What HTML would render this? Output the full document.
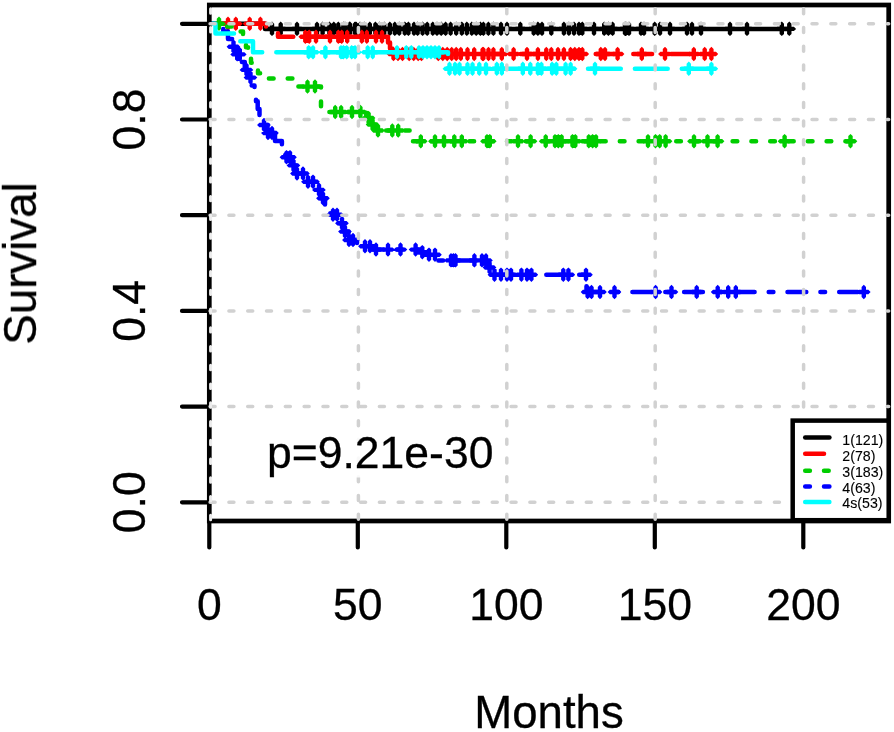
<!DOCTYPE html>
<html lang="en">
<head>
<meta charset="utf-8">
<title>Survival by group</title>
<style>
html,body{margin:0;padding:0;background:#fff;}
body{width:894px;height:732px;overflow:hidden;}
svg{display:block;}
svg text{font-family:"Liberation Sans",Arial,Helvetica,sans-serif;fill:#000;stroke:#000;stroke-width:0.3px;}
#legend text{stroke-width:0.1px;}
</style>
</head>
<body>
<svg width="894" height="732" viewBox="0 0 894 732">
<defs>
<filter id="soft" x="-2%" y="-2%" width="104%" height="104%"><feGaussianBlur stdDeviation="0.75"/></filter>
<filter id="soft2" x="-2%" y="-2%" width="104%" height="104%"><feGaussianBlur stdDeviation="0.5"/></filter>
</defs>
<rect width="894" height="732" fill="#fff"/>
<g id="curves" filter="url(#soft)">
<path d="M210 23.8 L265 23.8 L265 28.9 L789.3 28.9 L789.3 28.9" stroke="#000000" stroke-width="4.5" stroke-linecap="round" stroke-linejoin="round" fill="none"/>
<path d="M272 21.6l2.2 2.2v10.1l-2.2 2.2l-2.2 -2.2v-10.1zM265.1 28.9l2.2 -2.2h9.3l2.2 2.2l-2.2 2.2h-9.3zM280.7 21.6l2.2 2.2v10.1l-2.2 2.2l-2.2 -2.2v-10.1zM273.8 28.9l2.2 -2.2h9.3l2.2 2.2l-2.2 2.2h-9.3zM297 21.6l2.2 2.2v10.1l-2.2 2.2l-2.2 -2.2v-10.1zM290.1 28.9l2.2 -2.2h9.3l2.2 2.2l-2.2 2.2h-9.3zM317 21.6l2.2 2.2v10.1l-2.2 2.2l-2.2 -2.2v-10.1zM310.1 28.9l2.2 -2.2h9.3l2.2 2.2l-2.2 2.2h-9.3zM322.6 21.6l2.2 2.2v10.1l-2.2 2.2l-2.2 -2.2v-10.1zM315.7 28.9l2.2 -2.2h9.3l2.2 2.2l-2.2 2.2h-9.3zM329.4 21.6l2.2 2.2v10.1l-2.2 2.2l-2.2 -2.2v-10.1zM322.5 28.9l2.2 -2.2h9.3l2.2 2.2l-2.2 2.2h-9.3zM333.8 21.6l2.2 2.2v10.1l-2.2 2.2l-2.2 -2.2v-10.1zM326.9 28.9l2.2 -2.2h9.3l2.2 2.2l-2.2 2.2h-9.3zM338.3 21.6l2.2 2.2v10.1l-2.2 2.2l-2.2 -2.2v-10.1zM331.4 28.9l2.2 -2.2h9.3l2.2 2.2l-2.2 2.2h-9.3zM345 21.6l2.2 2.2v10.1l-2.2 2.2l-2.2 -2.2v-10.1zM338.1 28.9l2.2 -2.2h9.3l2.2 2.2l-2.2 2.2h-9.3zM349.5 21.6l2.2 2.2v10.1l-2.2 2.2l-2.2 -2.2v-10.1zM342.6 28.9l2.2 -2.2h9.3l2.2 2.2l-2.2 2.2h-9.3zM355 21.6l2.2 2.2v10.1l-2.2 2.2l-2.2 -2.2v-10.1zM348.1 28.9l2.2 -2.2h9.3l2.2 2.2l-2.2 2.2h-9.3zM343.4 21.6l2.2 2.2v10.1l-2.2 2.2l-2.2 -2.2v-10.1zM336.5 28.9l2.2 -2.2h9.3l2.2 2.2l-2.2 2.2h-9.3zM350 21.6l2.2 2.2v10.1l-2.2 2.2l-2.2 -2.2v-10.1zM343.1 28.9l2.2 -2.2h9.3l2.2 2.2l-2.2 2.2h-9.3zM356 21.6l2.2 2.2v10.1l-2.2 2.2l-2.2 -2.2v-10.1zM349.1 28.9l2.2 -2.2h9.3l2.2 2.2l-2.2 2.2h-9.3zM360 21.6l2.2 2.2v10.1l-2.2 2.2l-2.2 -2.2v-10.1zM353.1 28.9l2.2 -2.2h9.3l2.2 2.2l-2.2 2.2h-9.3zM364.2 21.6l2.2 2.2v10.1l-2.2 2.2l-2.2 -2.2v-10.1zM357.3 28.9l2.2 -2.2h9.3l2.2 2.2l-2.2 2.2h-9.3zM369.8 21.6l2.2 2.2v10.1l-2.2 2.2l-2.2 -2.2v-10.1zM362.9 28.9l2.2 -2.2h9.3l2.2 2.2l-2.2 2.2h-9.3zM375.4 21.6l2.2 2.2v10.1l-2.2 2.2l-2.2 -2.2v-10.1zM368.5 28.9l2.2 -2.2h9.3l2.2 2.2l-2.2 2.2h-9.3zM379.6 21.6l2.2 2.2v10.1l-2.2 2.2l-2.2 -2.2v-10.1zM372.7 28.9l2.2 -2.2h9.3l2.2 2.2l-2.2 2.2h-9.3zM384.2 21.6l2.2 2.2v10.1l-2.2 2.2l-2.2 -2.2v-10.1zM377.3 28.9l2.2 -2.2h9.3l2.2 2.2l-2.2 2.2h-9.3zM389.8 21.6l2.2 2.2v10.1l-2.2 2.2l-2.2 -2.2v-10.1zM382.9 28.9l2.2 -2.2h9.3l2.2 2.2l-2.2 2.2h-9.3zM394.8 21.6l2.2 2.2v10.1l-2.2 2.2l-2.2 -2.2v-10.1zM387.9 28.9l2.2 -2.2h9.3l2.2 2.2l-2.2 2.2h-9.3zM399.2 21.6l2.2 2.2v10.1l-2.2 2.2l-2.2 -2.2v-10.1zM392.3 28.9l2.2 -2.2h9.3l2.2 2.2l-2.2 2.2h-9.3zM404.8 21.6l2.2 2.2v10.1l-2.2 2.2l-2.2 -2.2v-10.1zM397.9 28.9l2.2 -2.2h9.3l2.2 2.2l-2.2 2.2h-9.3zM408.4 21.6l2.2 2.2v10.1l-2.2 2.2l-2.2 -2.2v-10.1zM401.5 28.9l2.2 -2.2h9.3l2.2 2.2l-2.2 2.2h-9.3zM414 21.6l2.2 2.2v10.1l-2.2 2.2l-2.2 -2.2v-10.1zM407.1 28.9l2.2 -2.2h9.3l2.2 2.2l-2.2 2.2h-9.3zM417.6 21.6l2.2 2.2v10.1l-2.2 2.2l-2.2 -2.2v-10.1zM410.7 28.9l2.2 -2.2h9.3l2.2 2.2l-2.2 2.2h-9.3zM422.6 21.6l2.2 2.2v10.1l-2.2 2.2l-2.2 -2.2v-10.1zM415.7 28.9l2.2 -2.2h9.3l2.2 2.2l-2.2 2.2h-9.3zM427.2 21.6l2.2 2.2v10.1l-2.2 2.2l-2.2 -2.2v-10.1zM420.3 28.9l2.2 -2.2h9.3l2.2 2.2l-2.2 2.2h-9.3zM432.8 21.6l2.2 2.2v10.1l-2.2 2.2l-2.2 -2.2v-10.1zM425.9 28.9l2.2 -2.2h9.3l2.2 2.2l-2.2 2.2h-9.3zM437 21.6l2.2 2.2v10.1l-2.2 2.2l-2.2 -2.2v-10.1zM430.1 28.9l2.2 -2.2h9.3l2.2 2.2l-2.2 2.2h-9.3zM441.2 21.6l2.2 2.2v10.1l-2.2 2.2l-2.2 -2.2v-10.1zM434.3 28.9l2.2 -2.2h9.3l2.2 2.2l-2.2 2.2h-9.3zM445.6 21.6l2.2 2.2v10.1l-2.2 2.2l-2.2 -2.2v-10.1zM438.7 28.9l2.2 -2.2h9.3l2.2 2.2l-2.2 2.2h-9.3zM450.6 21.6l2.2 2.2v10.1l-2.2 2.2l-2.2 -2.2v-10.1zM443.7 28.9l2.2 -2.2h9.3l2.2 2.2l-2.2 2.2h-9.3zM456.2 21.6l2.2 2.2v10.1l-2.2 2.2l-2.2 -2.2v-10.1zM449.3 28.9l2.2 -2.2h9.3l2.2 2.2l-2.2 2.2h-9.3zM461.8 21.6l2.2 2.2v10.1l-2.2 2.2l-2.2 -2.2v-10.1zM454.9 28.9l2.2 -2.2h9.3l2.2 2.2l-2.2 2.2h-9.3zM466.8 21.6l2.2 2.2v10.1l-2.2 2.2l-2.2 -2.2v-10.1zM459.9 28.9l2.2 -2.2h9.3l2.2 2.2l-2.2 2.2h-9.3zM471.8 21.6l2.2 2.2v10.1l-2.2 2.2l-2.2 -2.2v-10.1zM464.9 28.9l2.2 -2.2h9.3l2.2 2.2l-2.2 2.2h-9.3zM476.2 21.6l2.2 2.2v10.1l-2.2 2.2l-2.2 -2.2v-10.1zM469.3 28.9l2.2 -2.2h9.3l2.2 2.2l-2.2 2.2h-9.3zM480.4 21.6l2.2 2.2v10.1l-2.2 2.2l-2.2 -2.2v-10.1zM473.5 28.9l2.2 -2.2h9.3l2.2 2.2l-2.2 2.2h-9.3zM483.4 21.6l2.2 2.2v10.1l-2.2 2.2l-2.2 -2.2v-10.1zM476.5 28.9l2.2 -2.2h9.3l2.2 2.2l-2.2 2.2h-9.3zM488.4 21.6l2.2 2.2v10.1l-2.2 2.2l-2.2 -2.2v-10.1zM481.5 28.9l2.2 -2.2h9.3l2.2 2.2l-2.2 2.2h-9.3zM493.4 21.6l2.2 2.2v10.1l-2.2 2.2l-2.2 -2.2v-10.1zM486.5 28.9l2.2 -2.2h9.3l2.2 2.2l-2.2 2.2h-9.3zM501 21.6l2.2 2.2v10.1l-2.2 2.2l-2.2 -2.2v-10.1zM494.1 28.9l2.2 -2.2h9.3l2.2 2.2l-2.2 2.2h-9.3zM507 21.6l2.2 2.2v10.1l-2.2 2.2l-2.2 -2.2v-10.1zM500.1 28.9l2.2 -2.2h9.3l2.2 2.2l-2.2 2.2h-9.3zM520.3 21.6l2.2 2.2v10.1l-2.2 2.2l-2.2 -2.2v-10.1zM513.4 28.9l2.2 -2.2h9.3l2.2 2.2l-2.2 2.2h-9.3zM533.7 21.6l2.2 2.2v10.1l-2.2 2.2l-2.2 -2.2v-10.1zM526.8 28.9l2.2 -2.2h9.3l2.2 2.2l-2.2 2.2h-9.3zM537.9 21.6l2.2 2.2v10.1l-2.2 2.2l-2.2 -2.2v-10.1zM531 28.9l2.2 -2.2h9.3l2.2 2.2l-2.2 2.2h-9.3zM542 21.6l2.2 2.2v10.1l-2.2 2.2l-2.2 -2.2v-10.1zM535.1 28.9l2.2 -2.2h9.3l2.2 2.2l-2.2 2.2h-9.3zM551.3 21.6l2.2 2.2v10.1l-2.2 2.2l-2.2 -2.2v-10.1zM544.4 28.9l2.2 -2.2h9.3l2.2 2.2l-2.2 2.2h-9.3zM563.9 21.6l2.2 2.2v10.1l-2.2 2.2l-2.2 -2.2v-10.1zM557 28.9l2.2 -2.2h9.3l2.2 2.2l-2.2 2.2h-9.3zM568.9 21.6l2.2 2.2v10.1l-2.2 2.2l-2.2 -2.2v-10.1zM562 28.9l2.2 -2.2h9.3l2.2 2.2l-2.2 2.2h-9.3zM574 21.6l2.2 2.2v10.1l-2.2 2.2l-2.2 -2.2v-10.1zM567.1 28.9l2.2 -2.2h9.3l2.2 2.2l-2.2 2.2h-9.3zM579 21.6l2.2 2.2v10.1l-2.2 2.2l-2.2 -2.2v-10.1zM572.1 28.9l2.2 -2.2h9.3l2.2 2.2l-2.2 2.2h-9.3zM582.3 21.6l2.2 2.2v10.1l-2.2 2.2l-2.2 -2.2v-10.1zM575.4 28.9l2.2 -2.2h9.3l2.2 2.2l-2.2 2.2h-9.3zM594 21.6l2.2 2.2v10.1l-2.2 2.2l-2.2 -2.2v-10.1zM587.1 28.9l2.2 -2.2h9.3l2.2 2.2l-2.2 2.2h-9.3zM604.2 21.6l2.2 2.2v10.1l-2.2 2.2l-2.2 -2.2v-10.1zM597.3 28.9l2.2 -2.2h9.3l2.2 2.2l-2.2 2.2h-9.3zM608.4 21.6l2.2 2.2v10.1l-2.2 2.2l-2.2 -2.2v-10.1zM601.5 28.9l2.2 -2.2h9.3l2.2 2.2l-2.2 2.2h-9.3zM612.6 21.6l2.2 2.2v10.1l-2.2 2.2l-2.2 -2.2v-10.1zM605.7 28.9l2.2 -2.2h9.3l2.2 2.2l-2.2 2.2h-9.3zM626 21.6l2.2 2.2v10.1l-2.2 2.2l-2.2 -2.2v-10.1zM619.1 28.9l2.2 -2.2h9.3l2.2 2.2l-2.2 2.2h-9.3zM625 21.6l2.2 2.2v10.1l-2.2 2.2l-2.2 -2.2v-10.1zM618.1 28.9l2.2 -2.2h9.3l2.2 2.2l-2.2 2.2h-9.3zM629 21.6l2.2 2.2v10.1l-2.2 2.2l-2.2 -2.2v-10.1zM622.1 28.9l2.2 -2.2h9.3l2.2 2.2l-2.2 2.2h-9.3zM641 21.6l2.2 2.2v10.1l-2.2 2.2l-2.2 -2.2v-10.1zM634.1 28.9l2.2 -2.2h9.3l2.2 2.2l-2.2 2.2h-9.3zM644 21.6l2.2 2.2v10.1l-2.2 2.2l-2.2 -2.2v-10.1zM637.1 28.9l2.2 -2.2h9.3l2.2 2.2l-2.2 2.2h-9.3zM654.7 21.6l2.2 2.2v10.1l-2.2 2.2l-2.2 -2.2v-10.1zM647.8 28.9l2.2 -2.2h9.3l2.2 2.2l-2.2 2.2h-9.3zM660 21.6l2.2 2.2v10.1l-2.2 2.2l-2.2 -2.2v-10.1zM653.1 28.9l2.2 -2.2h9.3l2.2 2.2l-2.2 2.2h-9.3zM670 21.6l2.2 2.2v10.1l-2.2 2.2l-2.2 -2.2v-10.1zM663.1 28.9l2.2 -2.2h9.3l2.2 2.2l-2.2 2.2h-9.3zM687 21.6l2.2 2.2v10.1l-2.2 2.2l-2.2 -2.2v-10.1zM680.1 28.9l2.2 -2.2h9.3l2.2 2.2l-2.2 2.2h-9.3zM692 21.6l2.2 2.2v10.1l-2.2 2.2l-2.2 -2.2v-10.1zM685.1 28.9l2.2 -2.2h9.3l2.2 2.2l-2.2 2.2h-9.3zM701 21.6l2.2 2.2v10.1l-2.2 2.2l-2.2 -2.2v-10.1zM694.1 28.9l2.2 -2.2h9.3l2.2 2.2l-2.2 2.2h-9.3zM730 21.6l2.2 2.2v10.1l-2.2 2.2l-2.2 -2.2v-10.1zM723.1 28.9l2.2 -2.2h9.3l2.2 2.2l-2.2 2.2h-9.3zM747 21.6l2.2 2.2v10.1l-2.2 2.2l-2.2 -2.2v-10.1zM740.1 28.9l2.2 -2.2h9.3l2.2 2.2l-2.2 2.2h-9.3zM781.8 21.6l2.2 2.2v10.1l-2.2 2.2l-2.2 -2.2v-10.1zM774.9 28.9l2.2 -2.2h9.3l2.2 2.2l-2.2 2.2h-9.3zM789.3 21.6l2.2 2.2v10.1l-2.2 2.2l-2.2 -2.2v-10.1zM782.4 28.9l2.2 -2.2h9.3l2.2 2.2l-2.2 2.2h-9.3z" fill="#000000" stroke="none"/>
<path d="M210 23.8 L266 23.8 L266 30 L278 30 L278 36.8 L388 36.8 L388 42.5 L390 42.5 L390 48.5 L392 48.5 L392 54 L711.4 54 L711.4 54" stroke="#ff0000" stroke-width="4.5" stroke-linecap="round" stroke-linejoin="round" fill="none" stroke-dasharray="18.8 18.8" stroke-dashoffset="35.3"/>
<path d="M228 16.5l2.2 2.2v10.1l-2.2 2.2l-2.2 -2.2v-10.1zM221.1 23.8l2.2 -2.2h9.3l2.2 2.2l-2.2 2.2h-9.3zM235.8 16.5l2.2 2.2v10.1l-2.2 2.2l-2.2 -2.2v-10.1zM228.9 23.8l2.2 -2.2h9.3l2.2 2.2l-2.2 2.2h-9.3zM249.7 16.5l2.2 2.2v10.1l-2.2 2.2l-2.2 -2.2v-10.1zM242.8 23.8l2.2 -2.2h9.3l2.2 2.2l-2.2 2.2h-9.3zM260.4 16.5l2.2 2.2v10.1l-2.2 2.2l-2.2 -2.2v-10.1zM253.5 23.8l2.2 -2.2h9.3l2.2 2.2l-2.2 2.2h-9.3zM305.3 29.5l2.2 2.2v10.1l-2.2 2.2l-2.2 -2.2v-10.1zM298.4 36.8l2.2 -2.2h9.3l2.2 2.2l-2.2 2.2h-9.3zM309.2 29.5l2.2 2.2v10.1l-2.2 2.2l-2.2 -2.2v-10.1zM302.3 36.8l2.2 -2.2h9.3l2.2 2.2l-2.2 2.2h-9.3zM316 29.5l2.2 2.2v10.1l-2.2 2.2l-2.2 -2.2v-10.1zM309.1 36.8l2.2 -2.2h9.3l2.2 2.2l-2.2 2.2h-9.3zM330 29.5l2.2 2.2v10.1l-2.2 2.2l-2.2 -2.2v-10.1zM323.1 36.8l2.2 -2.2h9.3l2.2 2.2l-2.2 2.2h-9.3zM338.3 29.5l2.2 2.2v10.1l-2.2 2.2l-2.2 -2.2v-10.1zM331.4 36.8l2.2 -2.2h9.3l2.2 2.2l-2.2 2.2h-9.3zM347.2 29.5l2.2 2.2v10.1l-2.2 2.2l-2.2 -2.2v-10.1zM340.3 36.8l2.2 -2.2h9.3l2.2 2.2l-2.2 2.2h-9.3zM341.7 29.5l2.2 2.2v10.1l-2.2 2.2l-2.2 -2.2v-10.1zM334.8 36.8l2.2 -2.2h9.3l2.2 2.2l-2.2 2.2h-9.3zM361.8 29.5l2.2 2.2v10.1l-2.2 2.2l-2.2 -2.2v-10.1zM354.9 36.8l2.2 -2.2h9.3l2.2 2.2l-2.2 2.2h-9.3zM366.8 29.5l2.2 2.2v10.1l-2.2 2.2l-2.2 -2.2v-10.1zM359.9 36.8l2.2 -2.2h9.3l2.2 2.2l-2.2 2.2h-9.3zM376 29.5l2.2 2.2v10.1l-2.2 2.2l-2.2 -2.2v-10.1zM369.1 36.8l2.2 -2.2h9.3l2.2 2.2l-2.2 2.2h-9.3zM382 29.5l2.2 2.2v10.1l-2.2 2.2l-2.2 -2.2v-10.1zM375.1 36.8l2.2 -2.2h9.3l2.2 2.2l-2.2 2.2h-9.3zM393.5 46.7l2.2 2.2v10.1l-2.2 2.2l-2.2 -2.2v-10.1zM386.6 54l2.2 -2.2h9.3l2.2 2.2l-2.2 2.2h-9.3zM398 46.7l2.2 2.2v10.1l-2.2 2.2l-2.2 -2.2v-10.1zM391.1 54l2.2 -2.2h9.3l2.2 2.2l-2.2 2.2h-9.3zM402.5 46.7l2.2 2.2v10.1l-2.2 2.2l-2.2 -2.2v-10.1zM395.6 54l2.2 -2.2h9.3l2.2 2.2l-2.2 2.2h-9.3zM409.2 46.7l2.2 2.2v10.1l-2.2 2.2l-2.2 -2.2v-10.1zM402.3 54l2.2 -2.2h9.3l2.2 2.2l-2.2 2.2h-9.3zM413.7 46.7l2.2 2.2v10.1l-2.2 2.2l-2.2 -2.2v-10.1zM406.8 54l2.2 -2.2h9.3l2.2 2.2l-2.2 2.2h-9.3zM418.2 46.7l2.2 2.2v10.1l-2.2 2.2l-2.2 -2.2v-10.1zM411.3 54l2.2 -2.2h9.3l2.2 2.2l-2.2 2.2h-9.3zM421.5 46.7l2.2 2.2v10.1l-2.2 2.2l-2.2 -2.2v-10.1zM414.6 54l2.2 -2.2h9.3l2.2 2.2l-2.2 2.2h-9.3zM438.3 46.7l2.2 2.2v10.1l-2.2 2.2l-2.2 -2.2v-10.1zM431.4 54l2.2 -2.2h9.3l2.2 2.2l-2.2 2.2h-9.3zM442.8 46.7l2.2 2.2v10.1l-2.2 2.2l-2.2 -2.2v-10.1zM435.9 54l2.2 -2.2h9.3l2.2 2.2l-2.2 2.2h-9.3zM447.2 46.7l2.2 2.2v10.1l-2.2 2.2l-2.2 -2.2v-10.1zM440.3 54l2.2 -2.2h9.3l2.2 2.2l-2.2 2.2h-9.3zM451.7 46.7l2.2 2.2v10.1l-2.2 2.2l-2.2 -2.2v-10.1zM444.8 54l2.2 -2.2h9.3l2.2 2.2l-2.2 2.2h-9.3zM456.2 46.7l2.2 2.2v10.1l-2.2 2.2l-2.2 -2.2v-10.1zM449.3 54l2.2 -2.2h9.3l2.2 2.2l-2.2 2.2h-9.3zM460.8 46.7l2.2 2.2v10.1l-2.2 2.2l-2.2 -2.2v-10.1zM453.9 54l2.2 -2.2h9.3l2.2 2.2l-2.2 2.2h-9.3zM467.5 46.7l2.2 2.2v10.1l-2.2 2.2l-2.2 -2.2v-10.1zM460.6 54l2.2 -2.2h9.3l2.2 2.2l-2.2 2.2h-9.3zM474.2 46.7l2.2 2.2v10.1l-2.2 2.2l-2.2 -2.2v-10.1zM467.3 54l2.2 -2.2h9.3l2.2 2.2l-2.2 2.2h-9.3zM482.6 46.7l2.2 2.2v10.1l-2.2 2.2l-2.2 -2.2v-10.1zM475.7 54l2.2 -2.2h9.3l2.2 2.2l-2.2 2.2h-9.3zM488.5 46.7l2.2 2.2v10.1l-2.2 2.2l-2.2 -2.2v-10.1zM481.6 54l2.2 -2.2h9.3l2.2 2.2l-2.2 2.2h-9.3zM483.4 46.7l2.2 2.2v10.1l-2.2 2.2l-2.2 -2.2v-10.1zM476.5 54l2.2 -2.2h9.3l2.2 2.2l-2.2 2.2h-9.3zM493.4 46.7l2.2 2.2v10.1l-2.2 2.2l-2.2 -2.2v-10.1zM486.5 54l2.2 -2.2h9.3l2.2 2.2l-2.2 2.2h-9.3zM501.8 46.7l2.2 2.2v10.1l-2.2 2.2l-2.2 -2.2v-10.1zM494.9 54l2.2 -2.2h9.3l2.2 2.2l-2.2 2.2h-9.3zM513.6 46.7l2.2 2.2v10.1l-2.2 2.2l-2.2 -2.2v-10.1zM506.7 54l2.2 -2.2h9.3l2.2 2.2l-2.2 2.2h-9.3zM527 46.7l2.2 2.2v10.1l-2.2 2.2l-2.2 -2.2v-10.1zM520.1 54l2.2 -2.2h9.3l2.2 2.2l-2.2 2.2h-9.3zM537.9 46.7l2.2 2.2v10.1l-2.2 2.2l-2.2 -2.2v-10.1zM531 54l2.2 -2.2h9.3l2.2 2.2l-2.2 2.2h-9.3zM546.3 46.7l2.2 2.2v10.1l-2.2 2.2l-2.2 -2.2v-10.1zM539.4 54l2.2 -2.2h9.3l2.2 2.2l-2.2 2.2h-9.3zM551.3 46.7l2.2 2.2v10.1l-2.2 2.2l-2.2 -2.2v-10.1zM544.4 54l2.2 -2.2h9.3l2.2 2.2l-2.2 2.2h-9.3zM558 46.7l2.2 2.2v10.1l-2.2 2.2l-2.2 -2.2v-10.1zM551.1 54l2.2 -2.2h9.3l2.2 2.2l-2.2 2.2h-9.3zM563.9 46.7l2.2 2.2v10.1l-2.2 2.2l-2.2 -2.2v-10.1zM557 54l2.2 -2.2h9.3l2.2 2.2l-2.2 2.2h-9.3zM570.6 46.7l2.2 2.2v10.1l-2.2 2.2l-2.2 -2.2v-10.1zM563.7 54l2.2 -2.2h9.3l2.2 2.2l-2.2 2.2h-9.3zM574.8 46.7l2.2 2.2v10.1l-2.2 2.2l-2.2 -2.2v-10.1zM567.9 54l2.2 -2.2h9.3l2.2 2.2l-2.2 2.2h-9.3zM579 46.7l2.2 2.2v10.1l-2.2 2.2l-2.2 -2.2v-10.1zM572.1 54l2.2 -2.2h9.3l2.2 2.2l-2.2 2.2h-9.3zM582.3 46.7l2.2 2.2v10.1l-2.2 2.2l-2.2 -2.2v-10.1zM575.4 54l2.2 -2.2h9.3l2.2 2.2l-2.2 2.2h-9.3zM600.8 46.7l2.2 2.2v10.1l-2.2 2.2l-2.2 -2.2v-10.1zM593.9 54l2.2 -2.2h9.3l2.2 2.2l-2.2 2.2h-9.3zM605 46.7l2.2 2.2v10.1l-2.2 2.2l-2.2 -2.2v-10.1zM598.1 54l2.2 -2.2h9.3l2.2 2.2l-2.2 2.2h-9.3zM617.6 46.7l2.2 2.2v10.1l-2.2 2.2l-2.2 -2.2v-10.1zM610.7 54l2.2 -2.2h9.3l2.2 2.2l-2.2 2.2h-9.3zM641.8 46.7l2.2 2.2v10.1l-2.2 2.2l-2.2 -2.2v-10.1zM634.9 54l2.2 -2.2h9.3l2.2 2.2l-2.2 2.2h-9.3zM665 46.7l2.2 2.2v10.1l-2.2 2.2l-2.2 -2.2v-10.1zM658.1 54l2.2 -2.2h9.3l2.2 2.2l-2.2 2.2h-9.3zM693.8 46.7l2.2 2.2v10.1l-2.2 2.2l-2.2 -2.2v-10.1zM686.9 54l2.2 -2.2h9.3l2.2 2.2l-2.2 2.2h-9.3zM704.7 46.7l2.2 2.2v10.1l-2.2 2.2l-2.2 -2.2v-10.1zM697.8 54l2.2 -2.2h9.3l2.2 2.2l-2.2 2.2h-9.3zM711.4 46.7l2.2 2.2v10.1l-2.2 2.2l-2.2 -2.2v-10.1zM704.5 54l2.2 -2.2h9.3l2.2 2.2l-2.2 2.2h-9.3z" fill="#ff0000" stroke="none"/>
<path d="M210 23.8 L226 23.8 L226 26.4 L234 26.4 L234 29 L240 29 L240 31.6 L243 31.6 L243 36.8 L244.5 36.8 L244.5 42 L246 42 L246 47.2 L248 47.2 L248 52.4 L249.5 52.4 L249.5 57.6 L251 57.6 L251 62.8 L254 62.8 L254 68 L258 68 L258 73.2 L266 73.2 L266 78.5 L297 78.5 L297 86.6 L321 86.6 L321 112 L366.3 112 L366.3 118 L370 118 L370 124.5 L374.5 124.5 L374.5 130.5 L410.7 130.5 L410.7 141.2 L850.5 141.2 L850.5 141.2" stroke="#00cd00" stroke-width="4.5" stroke-linecap="round" stroke-linejoin="round" fill="none" stroke-dasharray="4.7 14.1" stroke-dashoffset="18"/>
<path d="M219 16.5l2.2 2.2v10.1l-2.2 2.2l-2.2 -2.2v-10.1zM212.1 23.8l2.2 -2.2h9.3l2.2 2.2l-2.2 2.2h-9.3zM307.5 79.3l2.2 2.2v10.1l-2.2 2.2l-2.2 -2.2v-10.1zM300.6 86.6l2.2 -2.2h9.3l2.2 2.2l-2.2 2.2h-9.3zM315 79.3l2.2 2.2v10.1l-2.2 2.2l-2.2 -2.2v-10.1zM308.1 86.6l2.2 -2.2h9.3l2.2 2.2l-2.2 2.2h-9.3zM335.2 104.7l2.2 2.2v10.1l-2.2 2.2l-2.2 -2.2v-10.1zM328.3 112l2.2 -2.2h9.3l2.2 2.2l-2.2 2.2h-9.3zM341.1 104.7l2.2 2.2v10.1l-2.2 2.2l-2.2 -2.2v-10.1zM334.2 112l2.2 -2.2h9.3l2.2 2.2l-2.2 2.2h-9.3zM352 104.7l2.2 2.2v10.1l-2.2 2.2l-2.2 -2.2v-10.1zM345.1 112l2.2 -2.2h9.3l2.2 2.2l-2.2 2.2h-9.3zM360.4 104.7l2.2 2.2v10.1l-2.2 2.2l-2.2 -2.2v-10.1zM353.5 112l2.2 -2.2h9.3l2.2 2.2l-2.2 2.2h-9.3zM368.6 110.7l2.2 2.2v10.1l-2.2 2.2l-2.2 -2.2v-10.1zM361.7 118l2.2 -2.2h9.3l2.2 2.2l-2.2 2.2h-9.3zM372.6 117.2l2.2 2.2v10.1l-2.2 2.2l-2.2 -2.2v-10.1zM365.7 124.5l2.2 -2.2h9.3l2.2 2.2l-2.2 2.2h-9.3zM378 123.2l2.2 2.2v10.1l-2.2 2.2l-2.2 -2.2v-10.1zM371.1 130.5l2.2 -2.2h9.3l2.2 2.2l-2.2 2.2h-9.3zM392.3 123.2l2.2 2.2v10.1l-2.2 2.2l-2.2 -2.2v-10.1zM385.4 130.5l2.2 -2.2h9.3l2.2 2.2l-2.2 2.2h-9.3zM398.2 123.2l2.2 2.2v10.1l-2.2 2.2l-2.2 -2.2v-10.1zM391.3 130.5l2.2 -2.2h9.3l2.2 2.2l-2.2 2.2h-9.3zM420.8 133.9l2.2 2.2v10.1l-2.2 2.2l-2.2 -2.2v-10.1zM413.9 141.2l2.2 -2.2h9.3l2.2 2.2l-2.2 2.2h-9.3zM435 133.9l2.2 2.2v10.1l-2.2 2.2l-2.2 -2.2v-10.1zM428.1 141.2l2.2 -2.2h9.3l2.2 2.2l-2.2 2.2h-9.3zM444 133.9l2.2 2.2v10.1l-2.2 2.2l-2.2 -2.2v-10.1zM437.1 141.2l2.2 -2.2h9.3l2.2 2.2l-2.2 2.2h-9.3zM454.3 133.9l2.2 2.2v10.1l-2.2 2.2l-2.2 -2.2v-10.1zM447.4 141.2l2.2 -2.2h9.3l2.2 2.2l-2.2 2.2h-9.3zM461.8 133.9l2.2 2.2v10.1l-2.2 2.2l-2.2 -2.2v-10.1zM454.9 141.2l2.2 -2.2h9.3l2.2 2.2l-2.2 2.2h-9.3zM487 133.9l2.2 2.2v10.1l-2.2 2.2l-2.2 -2.2v-10.1zM480.1 141.2l2.2 -2.2h9.3l2.2 2.2l-2.2 2.2h-9.3zM489.8 133.9l2.2 2.2v10.1l-2.2 2.2l-2.2 -2.2v-10.1zM482.9 141.2l2.2 -2.2h9.3l2.2 2.2l-2.2 2.2h-9.3zM518 133.9l2.2 2.2v10.1l-2.2 2.2l-2.2 -2.2v-10.1zM511.1 141.2l2.2 -2.2h9.3l2.2 2.2l-2.2 2.2h-9.3zM530.6 133.9l2.2 2.2v10.1l-2.2 2.2l-2.2 -2.2v-10.1zM523.7 141.2l2.2 -2.2h9.3l2.2 2.2l-2.2 2.2h-9.3zM545.7 133.9l2.2 2.2v10.1l-2.2 2.2l-2.2 -2.2v-10.1zM538.8 141.2l2.2 -2.2h9.3l2.2 2.2l-2.2 2.2h-9.3zM555 133.9l2.2 2.2v10.1l-2.2 2.2l-2.2 -2.2v-10.1zM548.1 141.2l2.2 -2.2h9.3l2.2 2.2l-2.2 2.2h-9.3zM558.3 133.9l2.2 2.2v10.1l-2.2 2.2l-2.2 -2.2v-10.1zM551.4 141.2l2.2 -2.2h9.3l2.2 2.2l-2.2 2.2h-9.3zM561.6 133.9l2.2 2.2v10.1l-2.2 2.2l-2.2 -2.2v-10.1zM554.7 141.2l2.2 -2.2h9.3l2.2 2.2l-2.2 2.2h-9.3zM572.5 133.9l2.2 2.2v10.1l-2.2 2.2l-2.2 -2.2v-10.1zM565.6 141.2l2.2 -2.2h9.3l2.2 2.2l-2.2 2.2h-9.3zM575.3 133.9l2.2 2.2v10.1l-2.2 2.2l-2.2 -2.2v-10.1zM568.4 141.2l2.2 -2.2h9.3l2.2 2.2l-2.2 2.2h-9.3zM588.8 133.9l2.2 2.2v10.1l-2.2 2.2l-2.2 -2.2v-10.1zM581.9 141.2l2.2 -2.2h9.3l2.2 2.2l-2.2 2.2h-9.3zM592.6 133.9l2.2 2.2v10.1l-2.2 2.2l-2.2 -2.2v-10.1zM585.7 141.2l2.2 -2.2h9.3l2.2 2.2l-2.2 2.2h-9.3zM596 133.9l2.2 2.2v10.1l-2.2 2.2l-2.2 -2.2v-10.1zM589.1 141.2l2.2 -2.2h9.3l2.2 2.2l-2.2 2.2h-9.3zM648 133.9l2.2 2.2v10.1l-2.2 2.2l-2.2 -2.2v-10.1zM641.1 141.2l2.2 -2.2h9.3l2.2 2.2l-2.2 2.2h-9.3zM655.5 133.9l2.2 2.2v10.1l-2.2 2.2l-2.2 -2.2v-10.1zM648.6 141.2l2.2 -2.2h9.3l2.2 2.2l-2.2 2.2h-9.3zM659.7 133.9l2.2 2.2v10.1l-2.2 2.2l-2.2 -2.2v-10.1zM652.8 141.2l2.2 -2.2h9.3l2.2 2.2l-2.2 2.2h-9.3zM665.6 133.9l2.2 2.2v10.1l-2.2 2.2l-2.2 -2.2v-10.1zM658.7 141.2l2.2 -2.2h9.3l2.2 2.2l-2.2 2.2h-9.3zM694 133.9l2.2 2.2v10.1l-2.2 2.2l-2.2 -2.2v-10.1zM687.1 141.2l2.2 -2.2h9.3l2.2 2.2l-2.2 2.2h-9.3zM707.5 133.9l2.2 2.2v10.1l-2.2 2.2l-2.2 -2.2v-10.1zM700.6 141.2l2.2 -2.2h9.3l2.2 2.2l-2.2 2.2h-9.3zM717.6 133.9l2.2 2.2v10.1l-2.2 2.2l-2.2 -2.2v-10.1zM710.7 141.2l2.2 -2.2h9.3l2.2 2.2l-2.2 2.2h-9.3zM784.6 133.9l2.2 2.2v10.1l-2.2 2.2l-2.2 -2.2v-10.1zM777.7 141.2l2.2 -2.2h9.3l2.2 2.2l-2.2 2.2h-9.3zM850.5 133.9l2.2 2.2v10.1l-2.2 2.2l-2.2 -2.2v-10.1zM843.6 141.2l2.2 -2.2h9.3l2.2 2.2l-2.2 2.2h-9.3z" fill="#00cd00" stroke="none"/>
<path d="M210 23.8 L223.3 23.8 L223.3 31.4 L228 31.4 L228 39 L232.4 39 L232.4 46.7 L236.3 46.7 L236.3 54.4 L240.8 54.4 L240.8 62.1 L244.8 62.1 L244.8 69.9 L248.4 69.9 L248.4 77.6 L251.7 77.6 L251.7 85.5 L254.5 85.5 L254.5 93.3 L256 93.3 L256 101.2 L257.7 101.2 L257.7 109.1 L259.5 109.1 L259.5 117 L263.3 117 L263.3 125 L267.8 125 L267.8 133 L275 133 L275 141 L281.9 141 L281.9 149.1 L285.2 149.1 L285.2 157.2 L293.4 157.2 L293.4 165.4 L295.8 165.4 L295.8 173.5 L305.2 173.5 L305.2 181.7 L315.8 181.7 L315.8 189.9 L320.3 189.9 L320.3 198.2 L325 198.2 L325 206.5 L330.4 206.5 L330.4 214.8 L338 214.8 L338 223.2 L343.7 223.2 L343.7 231.6 L348.6 231.6 L348.6 240 L357 240 L357 246.3 L373 246.3 L373 249.6 L419 249.6 L419 252.2 L426 252.2 L426 254.7 L438 254.7 L438 260.4 L488 260.4 L488 267.5 L491 267.5 L491 274.7 L586.5 274.7 L586.5 292 L863.8 292 L863.8 292" stroke="#0000ff" stroke-width="4.5" stroke-linecap="round" stroke-linejoin="round" fill="none" stroke-dasharray="4.7 14.1 18.8 14.1" stroke-dashoffset="0.3"/>
<path d="M233.5 39.4l2.2 2.2v10.1l-2.2 2.2l-2.2 -2.2v-10.1zM226.6 46.7l2.2 -2.2h9.3l2.2 2.2l-2.2 2.2h-9.3zM237.2 47.1l2.2 2.2v10.1l-2.2 2.2l-2.2 -2.2v-10.1zM230.3 54.4l2.2 -2.2h9.3l2.2 2.2l-2.2 2.2h-9.3zM239.8 47.1l2.2 2.2v10.1l-2.2 2.2l-2.2 -2.2v-10.1zM232.9 54.4l2.2 -2.2h9.3l2.2 2.2l-2.2 2.2h-9.3zM246.5 62.6l2.2 2.2v10.1l-2.2 2.2l-2.2 -2.2v-10.1zM239.6 69.9l2.2 -2.2h9.3l2.2 2.2l-2.2 2.2h-9.3zM250.5 70.3l2.2 2.2v10.1l-2.2 2.2l-2.2 -2.2v-10.1zM243.6 77.6l2.2 -2.2h9.3l2.2 2.2l-2.2 2.2h-9.3zM264 117.7l2.2 2.2v10.1l-2.2 2.2l-2.2 -2.2v-10.1zM257.1 125l2.2 -2.2h9.3l2.2 2.2l-2.2 2.2h-9.3zM268 125.7l2.2 2.2v10.1l-2.2 2.2l-2.2 -2.2v-10.1zM261.1 133l2.2 -2.2h9.3l2.2 2.2l-2.2 2.2h-9.3zM272 125.7l2.2 2.2v10.1l-2.2 2.2l-2.2 -2.2v-10.1zM265.1 133l2.2 -2.2h9.3l2.2 2.2l-2.2 2.2h-9.3zM286.5 149.9l2.2 2.2v10.1l-2.2 2.2l-2.2 -2.2v-10.1zM279.6 157.2l2.2 -2.2h9.3l2.2 2.2l-2.2 2.2h-9.3zM290 149.9l2.2 2.2v10.1l-2.2 2.2l-2.2 -2.2v-10.1zM283.1 157.2l2.2 -2.2h9.3l2.2 2.2l-2.2 2.2h-9.3zM293.5 158.1l2.2 2.2v10.1l-2.2 2.2l-2.2 -2.2v-10.1zM286.6 165.4l2.2 -2.2h9.3l2.2 2.2l-2.2 2.2h-9.3zM297 166.2l2.2 2.2v10.1l-2.2 2.2l-2.2 -2.2v-10.1zM290.1 173.5l2.2 -2.2h9.3l2.2 2.2l-2.2 2.2h-9.3zM303 166.2l2.2 2.2v10.1l-2.2 2.2l-2.2 -2.2v-10.1zM296.1 173.5l2.2 -2.2h9.3l2.2 2.2l-2.2 2.2h-9.3zM308 174.4l2.2 2.2v10.1l-2.2 2.2l-2.2 -2.2v-10.1zM301.1 181.7l2.2 -2.2h9.3l2.2 2.2l-2.2 2.2h-9.3zM313 174.4l2.2 2.2v10.1l-2.2 2.2l-2.2 -2.2v-10.1zM306.1 181.7l2.2 -2.2h9.3l2.2 2.2l-2.2 2.2h-9.3zM319 182.6l2.2 2.2v10.1l-2.2 2.2l-2.2 -2.2v-10.1zM312.1 189.9l2.2 -2.2h9.3l2.2 2.2l-2.2 2.2h-9.3zM323 190.9l2.2 2.2v10.1l-2.2 2.2l-2.2 -2.2v-10.1zM316.1 198.2l2.2 -2.2h9.3l2.2 2.2l-2.2 2.2h-9.3zM333 207.5l2.2 2.2v10.1l-2.2 2.2l-2.2 -2.2v-10.1zM326.1 214.8l2.2 -2.2h9.3l2.2 2.2l-2.2 2.2h-9.3zM337 207.5l2.2 2.2v10.1l-2.2 2.2l-2.2 -2.2v-10.1zM330.1 214.8l2.2 -2.2h9.3l2.2 2.2l-2.2 2.2h-9.3zM342 215.9l2.2 2.2v10.1l-2.2 2.2l-2.2 -2.2v-10.1zM335.1 223.2l2.2 -2.2h9.3l2.2 2.2l-2.2 2.2h-9.3zM345 224.3l2.2 2.2v10.1l-2.2 2.2l-2.2 -2.2v-10.1zM338.1 231.6l2.2 -2.2h9.3l2.2 2.2l-2.2 2.2h-9.3zM349 232.7l2.2 2.2v10.1l-2.2 2.2l-2.2 -2.2v-10.1zM342.1 240l2.2 -2.2h9.3l2.2 2.2l-2.2 2.2h-9.3zM353 232.7l2.2 2.2v10.1l-2.2 2.2l-2.2 -2.2v-10.1zM346.1 240l2.2 -2.2h9.3l2.2 2.2l-2.2 2.2h-9.3zM365 239l2.2 2.2v10.1l-2.2 2.2l-2.2 -2.2v-10.1zM358.1 246.3l2.2 -2.2h9.3l2.2 2.2l-2.2 2.2h-9.3zM370 239l2.2 2.2v10.1l-2.2 2.2l-2.2 -2.2v-10.1zM363.1 246.3l2.2 -2.2h9.3l2.2 2.2l-2.2 2.2h-9.3zM376 242.3l2.2 2.2v10.1l-2.2 2.2l-2.2 -2.2v-10.1zM369.1 249.6l2.2 -2.2h9.3l2.2 2.2l-2.2 2.2h-9.3zM388 242.3l2.2 2.2v10.1l-2.2 2.2l-2.2 -2.2v-10.1zM381.1 249.6l2.2 -2.2h9.3l2.2 2.2l-2.2 2.2h-9.3zM400.5 242.3l2.2 2.2v10.1l-2.2 2.2l-2.2 -2.2v-10.1zM393.6 249.6l2.2 -2.2h9.3l2.2 2.2l-2.2 2.2h-9.3zM415.6 242.3l2.2 2.2v10.1l-2.2 2.2l-2.2 -2.2v-10.1zM408.7 249.6l2.2 -2.2h9.3l2.2 2.2l-2.2 2.2h-9.3zM422.3 244.9l2.2 2.2v10.1l-2.2 2.2l-2.2 -2.2v-10.1zM415.4 252.2l2.2 -2.2h9.3l2.2 2.2l-2.2 2.2h-9.3zM429 247.4l2.2 2.2v10.1l-2.2 2.2l-2.2 -2.2v-10.1zM422.1 254.7l2.2 -2.2h9.3l2.2 2.2l-2.2 2.2h-9.3zM435 247.4l2.2 2.2v10.1l-2.2 2.2l-2.2 -2.2v-10.1zM428.1 254.7l2.2 -2.2h9.3l2.2 2.2l-2.2 2.2h-9.3zM453.4 253.1l2.2 2.2v10.1l-2.2 2.2l-2.2 -2.2v-10.1zM446.5 260.4l2.2 -2.2h9.3l2.2 2.2l-2.2 2.2h-9.3zM451 253.1l2.2 2.2v10.1l-2.2 2.2l-2.2 -2.2v-10.1zM444.1 260.4l2.2 -2.2h9.3l2.2 2.2l-2.2 2.2h-9.3zM455.5 253.1l2.2 2.2v10.1l-2.2 2.2l-2.2 -2.2v-10.1zM448.6 260.4l2.2 -2.2h9.3l2.2 2.2l-2.2 2.2h-9.3zM474.4 253.1l2.2 2.2v10.1l-2.2 2.2l-2.2 -2.2v-10.1zM467.5 260.4l2.2 -2.2h9.3l2.2 2.2l-2.2 2.2h-9.3zM482 253.1l2.2 2.2v10.1l-2.2 2.2l-2.2 -2.2v-10.1zM475.1 260.4l2.2 -2.2h9.3l2.2 2.2l-2.2 2.2h-9.3zM486 253.1l2.2 2.2v10.1l-2.2 2.2l-2.2 -2.2v-10.1zM479.1 260.4l2.2 -2.2h9.3l2.2 2.2l-2.2 2.2h-9.3zM489.6 260.2l2.2 2.2v10.1l-2.2 2.2l-2.2 -2.2v-10.1zM482.7 267.5l2.2 -2.2h9.3l2.2 2.2l-2.2 2.2h-9.3zM494.5 267.4l2.2 2.2v10.1l-2.2 2.2l-2.2 -2.2v-10.1zM487.6 274.7l2.2 -2.2h9.3l2.2 2.2l-2.2 2.2h-9.3zM501 267.4l2.2 2.2v10.1l-2.2 2.2l-2.2 -2.2v-10.1zM494.1 274.7l2.2 -2.2h9.3l2.2 2.2l-2.2 2.2h-9.3zM507 267.4l2.2 2.2v10.1l-2.2 2.2l-2.2 -2.2v-10.1zM500.1 274.7l2.2 -2.2h9.3l2.2 2.2l-2.2 2.2h-9.3zM511 267.4l2.2 2.2v10.1l-2.2 2.2l-2.2 -2.2v-10.1zM504.1 274.7l2.2 -2.2h9.3l2.2 2.2l-2.2 2.2h-9.3zM521.4 267.4l2.2 2.2v10.1l-2.2 2.2l-2.2 -2.2v-10.1zM514.5 274.7l2.2 -2.2h9.3l2.2 2.2l-2.2 2.2h-9.3zM527 267.4l2.2 2.2v10.1l-2.2 2.2l-2.2 -2.2v-10.1zM520.1 274.7l2.2 -2.2h9.3l2.2 2.2l-2.2 2.2h-9.3zM531.4 267.4l2.2 2.2v10.1l-2.2 2.2l-2.2 -2.2v-10.1zM524.5 274.7l2.2 -2.2h9.3l2.2 2.2l-2.2 2.2h-9.3zM563.3 267.4l2.2 2.2v10.1l-2.2 2.2l-2.2 -2.2v-10.1zM556.4 274.7l2.2 -2.2h9.3l2.2 2.2l-2.2 2.2h-9.3zM568.4 267.4l2.2 2.2v10.1l-2.2 2.2l-2.2 -2.2v-10.1zM561.5 274.7l2.2 -2.2h9.3l2.2 2.2l-2.2 2.2h-9.3zM586 267.4l2.2 2.2v10.1l-2.2 2.2l-2.2 -2.2v-10.1zM579.1 274.7l2.2 -2.2h9.3l2.2 2.2l-2.2 2.2h-9.3zM587.6 284.7l2.2 2.2v10.1l-2.2 2.2l-2.2 -2.2v-10.1zM580.7 292l2.2 -2.2h9.3l2.2 2.2l-2.2 2.2h-9.3zM591.5 284.7l2.2 2.2v10.1l-2.2 2.2l-2.2 -2.2v-10.1zM584.6 292l2.2 -2.2h9.3l2.2 2.2l-2.2 2.2h-9.3zM600 284.7l2.2 2.2v10.1l-2.2 2.2l-2.2 -2.2v-10.1zM593.1 292l2.2 -2.2h9.3l2.2 2.2l-2.2 2.2h-9.3zM614.5 284.7l2.2 2.2v10.1l-2.2 2.2l-2.2 -2.2v-10.1zM607.6 292l2.2 -2.2h9.3l2.2 2.2l-2.2 2.2h-9.3zM655.6 284.7l2.2 2.2v10.1l-2.2 2.2l-2.2 -2.2v-10.1zM648.7 292l2.2 -2.2h9.3l2.2 2.2l-2.2 2.2h-9.3zM671.5 284.7l2.2 2.2v10.1l-2.2 2.2l-2.2 -2.2v-10.1zM664.6 292l2.2 -2.2h9.3l2.2 2.2l-2.2 2.2h-9.3zM696.7 284.7l2.2 2.2v10.1l-2.2 2.2l-2.2 -2.2v-10.1zM689.8 292l2.2 -2.2h9.3l2.2 2.2l-2.2 2.2h-9.3zM717.7 284.7l2.2 2.2v10.1l-2.2 2.2l-2.2 -2.2v-10.1zM710.8 292l2.2 -2.2h9.3l2.2 2.2l-2.2 2.2h-9.3zM728.2 284.7l2.2 2.2v10.1l-2.2 2.2l-2.2 -2.2v-10.1zM721.3 292l2.2 -2.2h9.3l2.2 2.2l-2.2 2.2h-9.3zM735.8 284.7l2.2 2.2v10.1l-2.2 2.2l-2.2 -2.2v-10.1zM728.9 292l2.2 -2.2h9.3l2.2 2.2l-2.2 2.2h-9.3zM863.8 284.7l2.2 2.2v10.1l-2.2 2.2l-2.2 -2.2v-10.1zM856.9 292l2.2 -2.2h9.3l2.2 2.2l-2.2 2.2h-9.3z" fill="#0000ff" stroke="none"/>
<path d="M210 23.8 L215.5 23.8 L215.5 33.5 L236 33.5 L236 41.3 L253 41.3 L253 52.2 L448 52.2 L448 68.8 L711.4 68.8 L711.4 68.8" stroke="#00ffff" stroke-width="4.5" stroke-linecap="round" stroke-linejoin="round" fill="none" stroke-dasharray="32.8 14.1" stroke-dashoffset="46"/>
<path d="M308.7 44.9l2.2 2.2v10.1l-2.2 2.2l-2.2 -2.2v-10.1zM301.8 52.2l2.2 -2.2h9.3l2.2 2.2l-2.2 2.2h-9.3zM313 44.9l2.2 2.2v10.1l-2.2 2.2l-2.2 -2.2v-10.1zM306.1 52.2l2.2 -2.2h9.3l2.2 2.2l-2.2 2.2h-9.3zM325.4 44.9l2.2 2.2v10.1l-2.2 2.2l-2.2 -2.2v-10.1zM318.5 52.2l2.2 -2.2h9.3l2.2 2.2l-2.2 2.2h-9.3zM341 44.9l2.2 2.2v10.1l-2.2 2.2l-2.2 -2.2v-10.1zM334.1 52.2l2.2 -2.2h9.3l2.2 2.2l-2.2 2.2h-9.3zM346.7 44.9l2.2 2.2v10.1l-2.2 2.2l-2.2 -2.2v-10.1zM339.8 52.2l2.2 -2.2h9.3l2.2 2.2l-2.2 2.2h-9.3zM351.7 44.9l2.2 2.2v10.1l-2.2 2.2l-2.2 -2.2v-10.1zM344.8 52.2l2.2 -2.2h9.3l2.2 2.2l-2.2 2.2h-9.3zM343.4 44.9l2.2 2.2v10.1l-2.2 2.2l-2.2 -2.2v-10.1zM336.5 52.2l2.2 -2.2h9.3l2.2 2.2l-2.2 2.2h-9.3zM355 44.9l2.2 2.2v10.1l-2.2 2.2l-2.2 -2.2v-10.1zM348.1 52.2l2.2 -2.2h9.3l2.2 2.2l-2.2 2.2h-9.3zM367.7 44.9l2.2 2.2v10.1l-2.2 2.2l-2.2 -2.2v-10.1zM360.8 52.2l2.2 -2.2h9.3l2.2 2.2l-2.2 2.2h-9.3zM372.7 44.9l2.2 2.2v10.1l-2.2 2.2l-2.2 -2.2v-10.1zM365.8 52.2l2.2 -2.2h9.3l2.2 2.2l-2.2 2.2h-9.3zM397 44.9l2.2 2.2v10.1l-2.2 2.2l-2.2 -2.2v-10.1zM390.1 52.2l2.2 -2.2h9.3l2.2 2.2l-2.2 2.2h-9.3zM406.3 44.9l2.2 2.2v10.1l-2.2 2.2l-2.2 -2.2v-10.1zM399.4 52.2l2.2 -2.2h9.3l2.2 2.2l-2.2 2.2h-9.3zM411.3 44.9l2.2 2.2v10.1l-2.2 2.2l-2.2 -2.2v-10.1zM404.4 52.2l2.2 -2.2h9.3l2.2 2.2l-2.2 2.2h-9.3zM419 44.9l2.2 2.2v10.1l-2.2 2.2l-2.2 -2.2v-10.1zM412.1 52.2l2.2 -2.2h9.3l2.2 2.2l-2.2 2.2h-9.3zM423 44.9l2.2 2.2v10.1l-2.2 2.2l-2.2 -2.2v-10.1zM416.1 52.2l2.2 -2.2h9.3l2.2 2.2l-2.2 2.2h-9.3zM427 44.9l2.2 2.2v10.1l-2.2 2.2l-2.2 -2.2v-10.1zM420.1 52.2l2.2 -2.2h9.3l2.2 2.2l-2.2 2.2h-9.3zM431 44.9l2.2 2.2v10.1l-2.2 2.2l-2.2 -2.2v-10.1zM424.1 52.2l2.2 -2.2h9.3l2.2 2.2l-2.2 2.2h-9.3zM435 44.9l2.2 2.2v10.1l-2.2 2.2l-2.2 -2.2v-10.1zM428.1 52.2l2.2 -2.2h9.3l2.2 2.2l-2.2 2.2h-9.3zM439 44.9l2.2 2.2v10.1l-2.2 2.2l-2.2 -2.2v-10.1zM432.1 52.2l2.2 -2.2h9.3l2.2 2.2l-2.2 2.2h-9.3zM449.5 61.5l2.2 2.2v10.1l-2.2 2.2l-2.2 -2.2v-10.1zM442.6 68.8l2.2 -2.2h9.3l2.2 2.2l-2.2 2.2h-9.3zM455 61.5l2.2 2.2v10.1l-2.2 2.2l-2.2 -2.2v-10.1zM448.1 68.8l2.2 -2.2h9.3l2.2 2.2l-2.2 2.2h-9.3zM459.5 61.5l2.2 2.2v10.1l-2.2 2.2l-2.2 -2.2v-10.1zM452.6 68.8l2.2 -2.2h9.3l2.2 2.2l-2.2 2.2h-9.3zM467.5 61.5l2.2 2.2v10.1l-2.2 2.2l-2.2 -2.2v-10.1zM460.6 68.8l2.2 -2.2h9.3l2.2 2.2l-2.2 2.2h-9.3zM472.5 61.5l2.2 2.2v10.1l-2.2 2.2l-2.2 -2.2v-10.1zM465.6 68.8l2.2 -2.2h9.3l2.2 2.2l-2.2 2.2h-9.3zM479.3 61.5l2.2 2.2v10.1l-2.2 2.2l-2.2 -2.2v-10.1zM472.4 68.8l2.2 -2.2h9.3l2.2 2.2l-2.2 2.2h-9.3zM486 61.5l2.2 2.2v10.1l-2.2 2.2l-2.2 -2.2v-10.1zM479.1 68.8l2.2 -2.2h9.3l2.2 2.2l-2.2 2.2h-9.3zM496.8 61.5l2.2 2.2v10.1l-2.2 2.2l-2.2 -2.2v-10.1zM489.9 68.8l2.2 -2.2h9.3l2.2 2.2l-2.2 2.2h-9.3zM501.8 61.5l2.2 2.2v10.1l-2.2 2.2l-2.2 -2.2v-10.1zM494.9 68.8l2.2 -2.2h9.3l2.2 2.2l-2.2 2.2h-9.3zM522.8 61.5l2.2 2.2v10.1l-2.2 2.2l-2.2 -2.2v-10.1zM515.9 68.8l2.2 -2.2h9.3l2.2 2.2l-2.2 2.2h-9.3zM530.3 61.5l2.2 2.2v10.1l-2.2 2.2l-2.2 -2.2v-10.1zM523.4 68.8l2.2 -2.2h9.3l2.2 2.2l-2.2 2.2h-9.3zM537.9 61.5l2.2 2.2v10.1l-2.2 2.2l-2.2 -2.2v-10.1zM531 68.8l2.2 -2.2h9.3l2.2 2.2l-2.2 2.2h-9.3zM541.4 61.5l2.2 2.2v10.1l-2.2 2.2l-2.2 -2.2v-10.1zM534.5 68.8l2.2 -2.2h9.3l2.2 2.2l-2.2 2.2h-9.3zM552.1 61.5l2.2 2.2v10.1l-2.2 2.2l-2.2 -2.2v-10.1zM545.2 68.8l2.2 -2.2h9.3l2.2 2.2l-2.2 2.2h-9.3zM556.3 61.5l2.2 2.2v10.1l-2.2 2.2l-2.2 -2.2v-10.1zM549.4 68.8l2.2 -2.2h9.3l2.2 2.2l-2.2 2.2h-9.3zM565.6 61.5l2.2 2.2v10.1l-2.2 2.2l-2.2 -2.2v-10.1zM558.7 68.8l2.2 -2.2h9.3l2.2 2.2l-2.2 2.2h-9.3zM570.6 61.5l2.2 2.2v10.1l-2.2 2.2l-2.2 -2.2v-10.1zM563.7 68.8l2.2 -2.2h9.3l2.2 2.2l-2.2 2.2h-9.3zM595 61.5l2.2 2.2v10.1l-2.2 2.2l-2.2 -2.2v-10.1zM588.1 68.8l2.2 -2.2h9.3l2.2 2.2l-2.2 2.2h-9.3zM688.8 61.5l2.2 2.2v10.1l-2.2 2.2l-2.2 -2.2v-10.1zM681.9 68.8l2.2 -2.2h9.3l2.2 2.2l-2.2 2.2h-9.3zM711.4 61.5l2.2 2.2v10.1l-2.2 2.2l-2.2 -2.2v-10.1zM704.5 68.8l2.2 -2.2h9.3l2.2 2.2l-2.2 2.2h-9.3z" fill="#00ffff" stroke="none"/>
</g>
<g id="frame" filter="url(#soft2)">
<rect x="209.3" y="5" width="679.4" height="516" fill="none" stroke="#000" stroke-width="4.7"/>
<path d="M209.3 23.8H182 M209.3 119.5H182 M209.3 215.2H182 M209.3 310.9H182 M209.3 406.6H182 M209.3 502.3H182 M209.3 521V547.5 M357.8 521V547.5 M506.3 521V547.5 M654.8 521V547.5 M803.3 521V547.5" stroke="#000" stroke-width="4.2" stroke-linecap="round" fill="none"/>
</g>
<g id="grid" filter="url(#soft)">
<path d="M210.1 23.8H888.7 M210.1 119.5H888.7 M210.1 215.2H888.7 M210.1 310.9H888.7 M210.1 406.6H888.7 M210.1 502.3H888.7" stroke="#d1d1d1" stroke-width="3.5" stroke-linecap="round" stroke-dasharray="5 13.81" fill="none"/>
<path d="M358.4 8.8V521 M506.8 8.8V521 M655.2 8.8V521 M803.6 8.8V521" stroke="#d1d1d1" stroke-width="3.5" stroke-linecap="round" stroke-dasharray="5 13.72" fill="none"/>
<path d="M210.6 8.8V521" stroke="#ececec" stroke-width="3" stroke-linecap="round" stroke-dasharray="4.4 14.36" fill="none"/>
</g>
<g id="annot" filter="url(#soft2)">
<rect x="264" y="431.5" width="234" height="46" fill="#fff" fill-opacity="0.88"/>
<text x="267" y="468" font-size="44.5">p=9.21e-30</text>
</g>
<g id="legend" filter="url(#soft2)">
<rect x="792.7" y="420.6" width="96" height="99.6" fill="#fff" stroke="#000" stroke-width="4.5"/>
<path d="M805.2 437.6H829.4" stroke="#000" stroke-width="4.5" stroke-linecap="round"/>
<path d="M805.2 453.8H829.4" stroke="#ff0000" stroke-width="4.5" stroke-linecap="round" stroke-dasharray="18.8 18.8"/>
<path d="M805.2 470.7H829.4" stroke="#00cd00" stroke-width="4.5" stroke-linecap="round" stroke-dasharray="4.7 14.1"/>
<path d="M805.2 486.4H829.4" stroke="#0000ff" stroke-width="4.5" stroke-linecap="round" stroke-dasharray="4.7 14.1 18.8 14.1"/>
<path d="M805.2 501.9H829.4" stroke="#00ffff" stroke-width="4.5" stroke-linecap="round"/>
<text x="842.3" y="444.7" font-size="14.2">1(121)</text>
<text x="842.3" y="460.7" font-size="14.2">2(78)</text>
<text x="842.3" y="476.8" font-size="14.2">3(183)</text>
<text x="842.3" y="492.5" font-size="14.2">4(63)</text>
<text x="842.3" y="507.9" font-size="14.2">4s(53)</text>
</g>
<g id="labels" filter="url(#soft2)">
<text x="209.3" y="620" font-size="44.5" text-anchor="middle">0</text>
<text x="357.8" y="620" font-size="44.5" text-anchor="middle">50</text>
<text x="506.3" y="620" font-size="44.5" text-anchor="middle">100</text>
<text x="654.8" y="620" font-size="44.5" text-anchor="middle">150</text>
<text x="803.3" y="620" font-size="44.5" text-anchor="middle">200</text>
<text transform="translate(144.6 502.3) rotate(-90) scale(1 1.055)" font-size="44.5" text-anchor="middle">0.0</text>
<text transform="translate(144.6 310.9) rotate(-90) scale(1 1.055)" font-size="44.5" text-anchor="middle">0.4</text>
<text transform="translate(144.6 119.5) rotate(-90) scale(1 1.055)" font-size="44.5" text-anchor="middle">0.8</text>
<text x="549" y="728.3" font-size="45.6" text-anchor="middle">Months</text>
<text transform="translate(36 263.5) rotate(-90)" font-size="45.7" text-anchor="middle">Survival</text>
</g>
</svg>
</body>
</html>
